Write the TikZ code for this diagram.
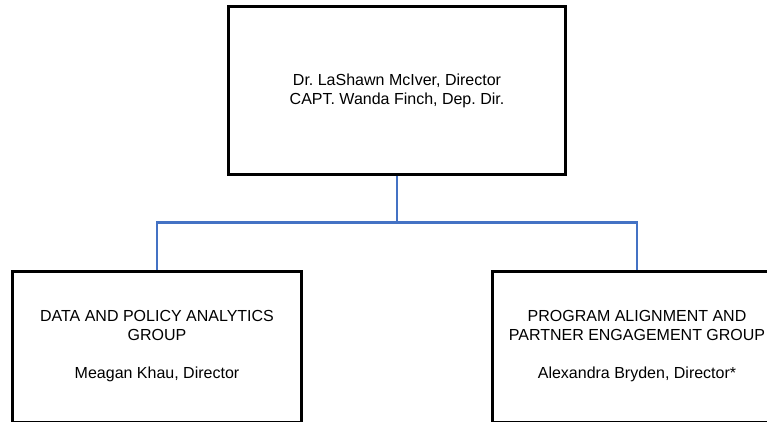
\documentclass[tikz,border=0pt]{standalone}
\usepackage{fontspec}
\setmainfont{Liberation Sans}
\frenchspacing
\usepackage{tikz}
\usetikzlibrary{positioning}
\definecolor{linkblue}{RGB}{68,114,196}
\tikzstyle{unitbox} = [rectangle, draw=black, line width=3pt, fill=white, align=center, text centered, font=\fontsize{16}{19}\selectfont]
\tikzstyle{link} = [draw=linkblue, line width=2.8pt]

\begin{document}
\begin{tikzpicture}[x=1pt,y=-1pt]
    \useasboundingbox (0,0) rectangle (767,422);
    \node (office) [unitbox, minimum width=337pt, minimum height=167pt] at (397,90.5) {Dr. LaShawn McIver, Director\\CAPT. Wanda Finch, Dep. Dir.};
    \node (dpag) [unitbox, minimum width=289pt, minimum height=151pt] at (157,346.5) {DATA AND POLICY ANALYTICS\\GROUP\\[19pt]Meagan Khau, Director};
    \node (pape) [unitbox, minimum width=289pt, minimum height=151pt] at (637,346.5) {PROGRAM ALIGNMENT AND\\PARTNER ENGAGEMENT GROUP\\[19pt]Alexandra Bryden, Director*};
    \coordinate (junction) at (397,222.5);

    \draw[link] (office.south) -- (junction);
    \draw[link] (dpag.north) |- (junction) -| (pape.north); % branch to both groups

\end{tikzpicture}
\end{document}
